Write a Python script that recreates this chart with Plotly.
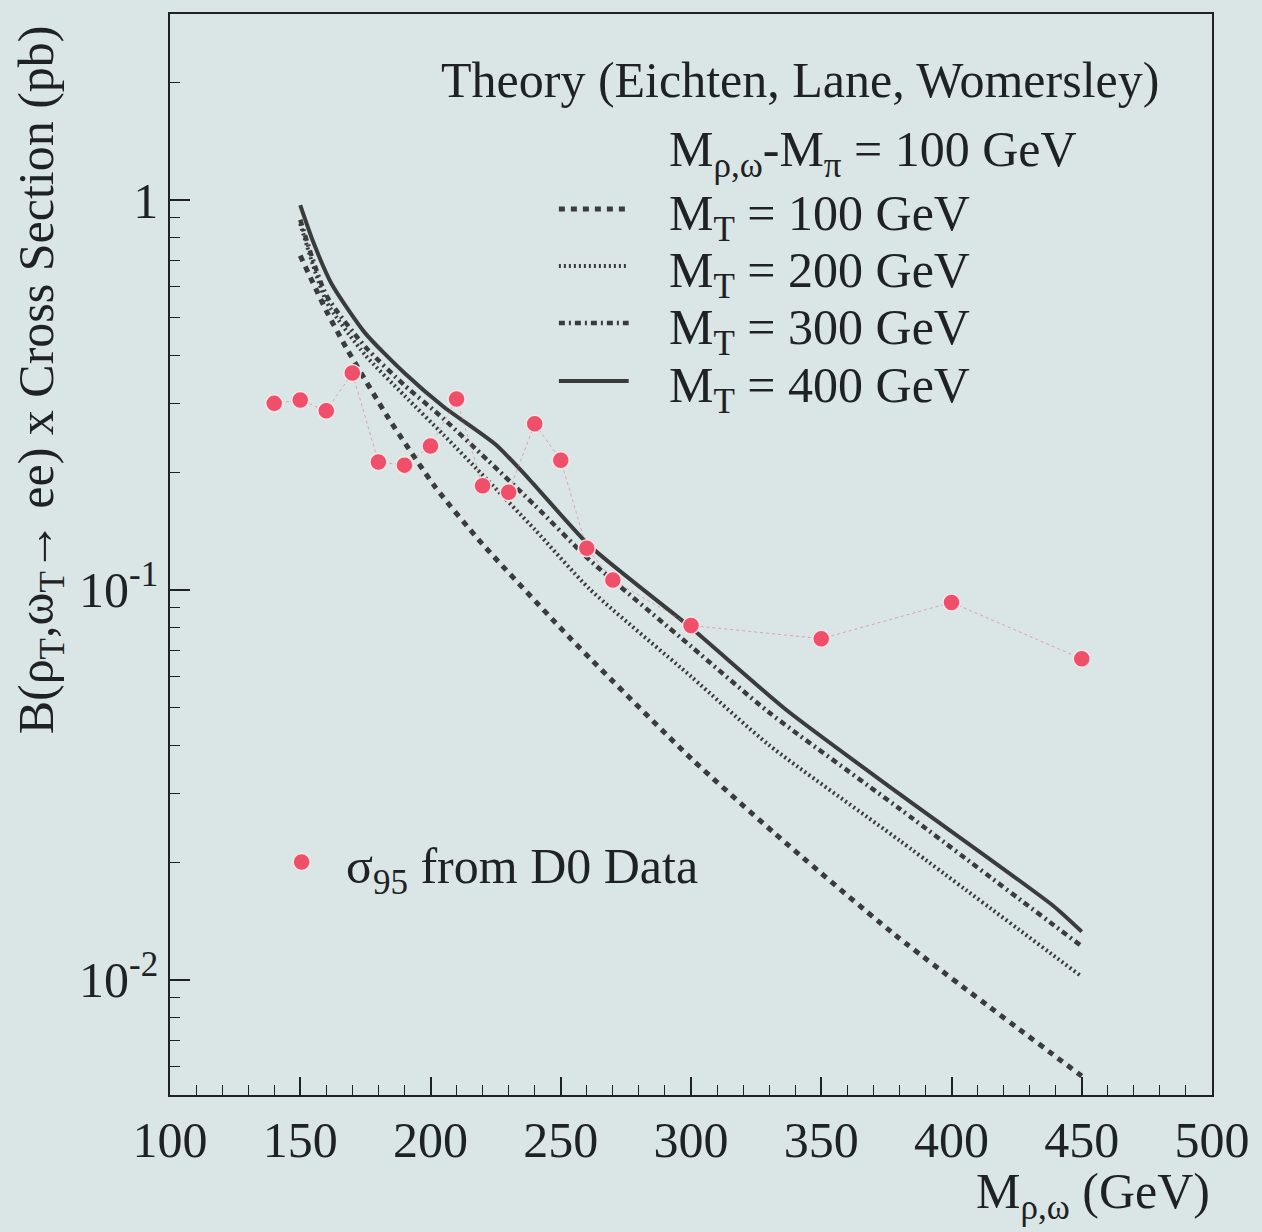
import plotly.graph_objects as go

# ---------------- data ----------------
data_mass = [140, 150, 160, 170, 180, 190, 200, 210, 220, 230, 240, 250, 260, 270, 300, 350, 400, 450]
data_sigma95 = [0.301, 0.307, 0.288, 0.360, 0.213, 0.209, 0.234, 0.309, 0.185, 0.178,
                0.267, 0.215, 0.128, 0.106, 0.0811, 0.0750, 0.0929, 0.0666]

mt100_mass = [150, 160, 168, 184, 202, 220, 254, 262, 300, 332, 378, 450]
mt100_xsec = [0.72, 0.52, 0.414, 0.275, 0.183, 0.131, 0.0748, 0.066, 0.037, 0.0238, 0.0131, 0.00567]

mt200_mass = [150, 160, 175, 190, 205, 222, 240, 261, 300, 330, 380, 450]
mt200_xsec = [0.87, 0.55, 0.40, 0.315, 0.25, 0.191, 0.143, 0.1007, 0.0600, 0.0400, 0.0228, 0.0102]

mt300_mass = [150, 160, 175, 190, 205, 222, 240, 261, 300, 330, 380, 450]
mt300_xsec = [0.89, 0.57, 0.42, 0.335, 0.275, 0.215, 0.165, 0.1195, 0.0717, 0.0485, 0.0275, 0.0122]

mt400_mass = [150, 155, 162, 175, 190, 205, 225, 238, 261, 300, 337, 380, 439, 450]
mt400_xsec = [0.97, 0.78, 0.61, 0.455, 0.36, 0.295, 0.236, 0.192, 0.130, 0.080, 0.049, 0.030, 0.0155, 0.0133]

x_ticks = [100, 150, 200, 250, 300, 350, 400, 450, 500]
y_ticks = [0.01, 0.1, 1]
y_ticktext = ["10<sup>-2</sup>", "10<sup>-1</sup>", "1"]

legend_rows = ["M<sub>T</sub> = 100 GeV", "M<sub>T</sub> = 200 GeV",
               "M<sub>T</sub> = 300 GeV", "M<sub>T</sub> = 400 GeV"]

# ---------------- style ----------------
BG = "#dae5e6"
INK = "#1f2222"
LINE = "#3a3c3c"
RED = "#ef4f68"
FONT = "Liberation Serif"

styles = [
    dict(width=5, dash="6px,6px"),            # M_T = 100
    dict(width=4, dash="2px,3px"),            # M_T = 200
    dict(width=4.5, dash="6px,4px,2px,4px"),  # M_T = 300
    dict(width=4, dash="solid"),              # M_T = 400
]

fig = go.Figure()

series = [(mt100_mass, mt100_xsec), (mt200_mass, mt200_xsec),
          (mt300_mass, mt300_xsec), (mt400_mass, mt400_xsec)]
for (xs, ys), st in zip(series, styles):
    fig.add_trace(go.Scatter(x=xs, y=ys, mode="lines",
                             line=dict(color=LINE, width=st["width"], dash=st["dash"],
                                       shape="spline", smoothing=0.6),
                             showlegend=False, hoverinfo="skip"))

fig.add_trace(go.Scatter(x=data_mass, y=data_sigma95, mode="lines+markers",
                         line=dict(color="rgba(225,110,125,0.55)", width=1, dash="dot"),
                         marker=dict(size=17, color=RED, line=dict(color="rgba(255,235,238,0.9)", width=1.5)),
                         showlegend=False, hoverinfo="skip"))

# plot area in pixels
L, R, T, B = 170, 47, 14, 137
W = 1262 - L - R
H = 1232 - T - B


def px(x):
    return (x - L) / W


def py(y):
    return (1232 - B - y) / H


def note(text, x, y, xanchor="left", **kw):
    return dict(text=text, x=px(x), y=py(y), xref="paper", yref="paper",
                xanchor=xanchor, yanchor="middle", showarrow=False, **kw)


annotations = []
shapes = []

annotations.append(note("Theory (Eichten, Lane, Womersley)", 440, 80))
annotations.append(note("M<sub>ρ,ω</sub>-M<sub>π</sub> = 100 GeV", 668, 153))

row_y = [215, 272, 329, 387]
for txt, yy, st in zip(legend_rows, row_y, styles):
    annotations.append(note(txt, 668, yy + 2))
    shapes.append(dict(type="line", xref="paper", yref="paper", x0=px(560), x1=px(630),
                       y0=py(yy - 6), y1=py(yy - 6),
                       line=dict(color=LINE, width=st["width"], dash=st["dash"])))

annotations.append(note("σ<sub>95</sub> from D0 Data", 345, 870))
shapes.append(dict(type="circle", xref="paper", yref="paper", xsizemode="pixel", ysizemode="pixel",
                   xanchor=px(302), yanchor=py(862), x0=-8.5, x1=8.5, y0=-8.5, y1=8.5,
                   fillcolor=RED, line=dict(color="rgba(255,235,238,0.9)", width=1.5)))

annotations.append(note("M<sub>ρ,ω</sub> (GeV)", 1215, 1195, xanchor="right"))
annotations.append(note("B(ρ<sub>T</sub>,ω<sub>T</sub>→ ee) x Cross Section (pb)", 40, 380,
                        xanchor="center", textangle=-90))

fig.update_layout(
    width=1262, height=1232,
    margin=dict(l=L, r=R, t=T, b=B),
    paper_bgcolor=BG, plot_bgcolor=BG,
    font=dict(family=FONT, size=50, color=INK),
    annotations=annotations,
    shapes=shapes,
)

fig.update_xaxes(range=[100, 500], tickvals=x_ticks, ticktext=[str(v) for v in x_ticks],
                 ticks="inside", ticklen=18, tickwidth=1.5, tickcolor=INK,
                 minor=dict(dtick=10, tick0=100, ticks="inside", ticklen=10, tickwidth=1.2, tickcolor=INK),
                 showline=True, linecolor=INK, linewidth=1.5, mirror=True,
                 showgrid=False, zeroline=False,
                 tickfont=dict(family=FONT, size=50, color=INK))

minor_y = [m * d for d in (0.001, 0.01, 0.1, 1) for m in range(2, 10)]
fig.update_yaxes(type="log", range=[-2.295, 0.477], tickvals=y_ticks, ticktext=y_ticktext,
                 ticks="inside", ticklen=20, tickwidth=1.5, tickcolor=INK,
                 minor=dict(tickvals=minor_y, ticks="inside", ticklen=10, tickwidth=1.2, tickcolor=INK),
                 showline=True, linecolor=INK, linewidth=1.5, mirror=True,
                 showgrid=False, zeroline=False,
                 tickfont=dict(family=FONT, size=50, color=INK))

fig.write_html("out.html")
